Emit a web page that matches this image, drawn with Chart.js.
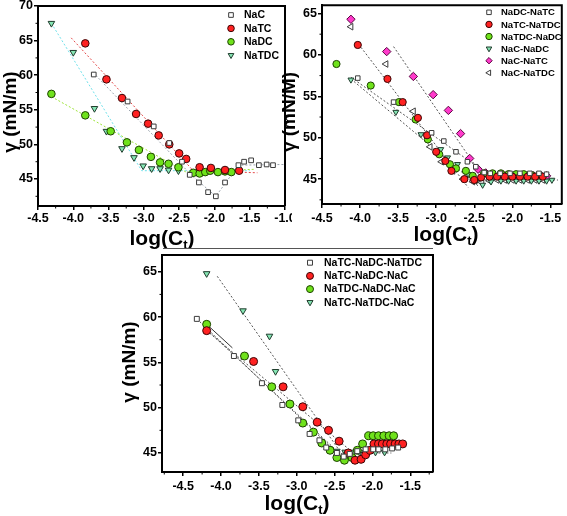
<!DOCTYPE html>
<html>
<head>
<meta charset="utf-8">
<script src="https://cdn.jsdelivr.net/npm/chart.js"></script>
<style>
  body { margin: 0; background: #fff; width: 567px; height: 516px; position: relative; overflow: hidden; }
  canvas { position: absolute; }
  #sep { position: absolute; left: 163px; top: 248px; width: 270px; height: 1px; background: #555; }
</style>
</head>
<body>
<canvas id="c1" width="292" height="250" style="left:0;top:0"></canvas>
<canvas id="c2" width="289" height="250" style="left:278px;top:0"></canvas>
<canvas id="c3" width="325" height="266" style="left:115px;top:250px"></canvas>
<div id="sep"></div>
<script>
// ---- panel 1 : single bile salts ----
const p1Labels = ["NaC", "NaTC", "NaDC", "NaTDC"];
const p1NaC = [[-3.71,60.1],[-3.23,56.2],[-2.86,52.6],[-2.64,50.2],[-2.46,47.5],[-2.35,45.6],[-2.22,44.5],[-2.09,43.1],[-1.98,42.5],[-1.85,44.5],[-1.66,47.0],[-1.58,47.5],[-1.48,47.7],[-1.37,47.0],[-1.26,47.1],[-1.17,47.0]];
const p1NaTC = [[-3.83,64.6],[-3.53,59.4],[-3.31,56.7],[-3.11,54.4],[-2.94,53.0],[-2.79,51.3],[-2.64,50.0],[-2.50,48.7],[-2.40,47.9],[-2.21,46.7],[-2.05,46.6],[-1.85,46.3],[-1.65,46.2]];
const p1NaDC = [[-4.31,57.3],[-3.83,54.2],[-3.47,51.9],[-3.24,50.3],[-3.07,49.2],[-2.90,48.2],[-2.77,47.4],[-2.65,47.2],[-2.51,46.7],[-2.30,45.9],[-2.21,45.8],[-2.13,46.0],[-2.06,46.2],[-1.95,46.0],[-1.85,46.1],[-1.76,46.0]];
const p1NaTDC = [[-4.31,67.5],[-4.00,63.3],[-3.70,55.2],[-3.53,51.9],[-3.31,49.4],[-3.14,48.1],[-3.01,46.9],[-2.89,46.5],[-2.77,46.5],[-2.65,46.3],[-2.51,46.2]];
const p1FitNaC = [[-3.72,60.4],[-2.33,45.6],[-1.98,42.5],[-1.66,47.0],[-1.0,47.1]];
const p1FitNaTC = [[-4.03,65.4],[-2.30,46.2],[-1.39,45.9]];
const p1FitNaDC = [[-4.31,56.9],[-2.40,46.0],[-1.44,46.4]];
const p1FitNaTDC = [[-4.31,67.5],[-3.03,46.2],[-1.50,46.2]];
const p1XTicks = [-4.5,-4.0,-3.5,-3.0,-2.5,-2.0,-1.5,-1.0];
const p1XMinor = [-4.25,-3.75,-3.25,-2.75,-2.25,-1.75,-1.25];
const p1YTicks = [45,50,55,60,65,70];
const p1YMinor = [42.5,47.5,52.5,57.5,62.5,67.5];

// ---- panel 2 : binary mixtures ----
const p2Labels = ["NaDC-NaTC", "NaTC-NaTDC", "NaTDC-NaDC", "NaC-NaDC", "NaC-NaTC", "NaC-NaTDC"];
const p2DCTC = [[-4.03,57.2],[-3.56,54.3],[-3.06,50.6],[-2.90,49.6],[-2.74,48.3],[-2.59,47.1],[-2.48,46.5],[-2.37,45.8],[-2.29,45.7],[-2.16,45.7],[-2.03,45.7],[-1.90,45.7],[-1.77,45.7],[-1.65,45.7],[-1.55,45.6]];
const p2TCTDC = [[-4.03,61.2],[-3.64,57.1],[-3.44,54.3],[-3.24,52.4],[-3.12,50.3],[-3.00,48.3],[-2.88,47.2],[-2.80,46.0],[-2.63,45.0],[-2.50,44.9],[-2.41,45.2],[-2.30,45.3],[-2.20,45.3],[-2.10,45.3],[-2.00,45.3],[-1.90,45.3],[-1.80,45.3],[-1.70,45.3],[-1.60,45.3]];
const p2TDCDC = [[-4.31,58.9],[-3.86,56.3],[-3.49,54.3],[-3.27,52.2],[-3.11,49.8],[-2.96,48.0],[-2.82,46.8],[-2.74,46.3],[-2.61,46.0],[-2.52,45.4],[-2.37,45.7],[-2.26,45.7],[-2.15,45.7],[-2.05,45.6],[-1.95,45.6],[-1.85,45.6],[-1.75,45.5],[-1.65,45.5]];
const p2CDC = [[-4.12,57.0],[-3.53,53.1],[-3.20,50.4],[-2.94,48.6],[-2.85,47.6],[-2.72,46.8],[-2.58,45.6],[-2.47,44.8],[-2.39,44.3],[-2.28,44.7],[-2.15,44.8],[-2.05,44.8],[-1.95,44.8],[-1.85,44.8],[-1.75,44.8],[-1.65,44.8],[-1.55,44.8],[-1.48,44.9]];
const p2CTC = [[-4.12,64.3],[-3.65,60.4],[-3.30,57.4],[-3.04,55.2],[-2.84,53.3],[-2.68,50.5],[-2.56,47.5],[-2.45,46.2],[-2.35,45.75],[-2.26,45.5],[-2.18,45.4],[-2.10,45.4],[-2.03,45.4],[-1.94,45.4],[-1.85,45.4],[-1.78,45.4],[-1.72,45.4],[-1.62,45.4],[-1.55,45.4]];
const p2CTDC = [[-4.12,63.4],[-3.66,58.9],[-3.30,53.2],[-3.08,48.9],[-2.93,47.1],[-2.78,46.0],[-2.65,45.0],[-2.52,44.7],[-2.40,44.6],[-2.30,44.8],[-2.20,44.9],[-2.10,44.9],[-2.00,44.9],[-1.90,44.9],[-1.80,44.9],[-1.70,44.9],[-1.60,44.9]];
const p2Fits = [
  [[-4.02,61.3],[-2.58,44.0]],
  [[-3.56,61.0],[-2.38,45.2]],
  [[-4.12,57.3],[-2.35,45.8]],
  [[-4.12,57.1],[-2.45,44.2]],
  [[-2.57,44.9],[-1.40,44.9]]
];
const p2XTicks = [-4.5,-4.0,-3.5,-3.0,-2.5,-2.0,-1.5];
const p2XMinor = [-4.25,-3.75,-3.25,-2.75,-2.25,-1.75];
const p2YTicks = [45,50,55,60,65];
const p2YMinor = [42.5,47.5,52.5,57.5,62.5];

// ---- panel 3 : ternary mixtures ----
const p3Labels = ["NaTC-NaDC-NaTDC", "NaTC-NaDC-NaC", "NaTDC-NaDC-NaC", "NaTC-NaTDC-NaC"];
const p3TCDCTDC = [[-4.32,59.8],[-3.83,55.7],[-3.46,52.7],[-3.19,50.3],[-2.98,48.6],[-2.83,47.1],[-2.70,46.4],[-2.61,45.6],[-2.47,45.0],[-2.38,44.6],[-2.30,44.9],[-2.20,45.2],[-2.09,45.4],[-1.99,45.4],[-1.92,45.4],[-1.83,45.4],[-1.74,45.5],[-1.66,45.6]];
const p3TCDCC = [[-4.19,58.5],[-3.57,55.1],[-3.18,52.3],[-2.92,50.1],[-2.73,48.4],[-2.58,47.5],[-2.44,46.3],[-2.32,45.0],[-2.23,44.2],[-2.15,44.3],[-2.09,44.8],[-2.03,45.3],[-1.98,46.0],[-1.92,46.0],[-1.87,46.0],[-1.81,46.0],[-1.76,46.0],[-1.70,46.0],[-1.65,46.0],[-1.60,46.0]];
const p3TDCDCC = [[-4.19,59.2],[-3.69,55.7],[-3.33,52.3],[-3.09,50.4],[-2.92,48.3],[-2.78,47.3],[-2.67,46.1],[-2.56,45.3],[-2.47,44.5],[-2.37,44.2],[-2.27,44.5],[-2.20,45.3],[-2.13,46.0],[-2.05,46.9],[-1.99,46.9],[-1.92,46.9],[-1.85,46.9],[-1.78,46.9],[-1.72,46.9]];
const p3TCTDCC = [[-4.19,64.8],[-3.71,60.7],[-3.36,57.9],[-3.28,54.0],[-3.09,50.4],[-2.92,48.3],[-2.78,47.3],[-2.67,46.1],[-2.58,45.5],[-2.47,45.2],[-2.36,45.1],[-2.25,45.1],[-2.17,45.1],[-2.05,45.1],[-1.96,45.1],[-1.84,45.1]];
const p3Fits = [
  [[-4.05,64.5],[-2.33,44.0]],
  [[-4.32,59.8],[-2.42,44.6]],
  [[-4.19,58.6],[-2.35,44.3]],
  [[-4.19,58.5],[-2.28,45.2]],
  [[-2.45,45.0],[-1.75,45.0]]
];
const p3Solid = [[-4.19,59.2],[-3.85,56.6]];
const p3XTicks = [-4.5,-4.0,-3.5,-3.0,-2.5,-2.0,-1.5];
const p3XMinor = [-4.75,-4.25,-3.75,-3.25,-2.75,-2.25,-1.75,-1.25];
const p3YTicks = [45,50,55,60,65];
const p3YMinor = [47.5,52.5,57.5,62.5];

const FONT = "'Liberation Sans', Arial, sans-serif";

// marker looks
const SQ = { pointStyle: "rect", bg: "#ffffff", bd: "#3c3c3c", rot: 0 };
const RED = { pointStyle: "circle", bg: "#ff2121", bd: "#3a0505", rot: 0 };
const GRN = { pointStyle: "circle", bg: "#6fe21b", bd: "#1d4200", rot: 0 };
const TRI = { pointStyle: "triangle", bg: "#86e6b4", bd: "#1f3b2c", rot: 180 };
const MAG = { pointStyle: "rectRot", bg: "#ff3acb", bd: "#5a0440", rot: 0 };
const LTRI = { pointStyle: "triangle", bg: "#ffffff", bd: "#3c3c3c", rot: 270 };

function toXY(arr) {
  return arr.map(p => ({ x: p[0], y: p[1] }));
}

function markerSet(label, arr, look, r) {
  return {
    label: label,
    data: toXY(arr),
    pointStyle: look.pointStyle,
    pointRotation: look.rot,
    backgroundColor: look.bg,
    borderColor: look.bd,
    pointBorderWidth: 1,
    pointRadius: r,
    pointHoverRadius: r,
    showLine: false,
    order: 0,
    look: look
  };
}

function fitSet(arr, color, dash) {
  return {
    label: "",
    data: toXY(arr),
    showLine: true,
    borderColor: color,
    borderWidth: 1,
    borderDash: dash,
    pointRadius: 0,
    order: 5,
    isFit: true
  };
}

function axis(min, max, ticks, dec, size, isY) {
  return {
    type: "linear",
    min: min,
    max: max,
    afterBuildTicks: (s) => { s.ticks = ticks.map(v => ({ value: v })); },
    afterFit: (s) => {
      if (isY) s.width = size.w; else s.height = size.h;
      s.paddingTop = 0; s.paddingBottom = 0; s.paddingLeft = 0; s.paddingRight = 0;
    },
    ticks: {
      color: "#000",
      autoSkip: false,
      maxRotation: 0,
      padding: size.pad,
      font: { family: FONT, size: 12.5, weight: "bold" },
      callback: (v) => dec ? Number(v).toFixed(1) : String(v)
    },
    grid: { drawOnChartArea: false, drawTicks: true, tickLength: 4, color: "#000", lineWidth: 1.5 },
    border: { display: true, color: "#000", width: 2 }
  };
}

function decor(cfg) {
  return {
    id: "decor",
    afterDraw(chart) {
      const ctx = chart.ctx;
      const a = chart.chartArea;
      const xs = chart.scales.x, ys = chart.scales.y;
      ctx.save();
      // frame top / right
      ctx.strokeStyle = "#000";
      ctx.lineWidth = 2;
      ctx.beginPath();
      ctx.moveTo(a.left, a.top); ctx.lineTo(a.right, a.top); ctx.lineTo(a.right, a.bottom);
      ctx.stroke();
      // minor ticks
      ctx.lineWidth = 1;
      ctx.beginPath();
      cfg.xMinor.forEach(v => {
        const px = xs.getPixelForValue(v);
        ctx.moveTo(px, a.bottom); ctx.lineTo(px, a.bottom + 2.5);
      });
      cfg.yMinor.forEach(v => {
        const py = ys.getPixelForValue(v);
        ctx.moveTo(a.left, py); ctx.lineTo(a.left - 2.5, py);
      });
      ctx.stroke();

      // x title with subscript
      ctx.fillStyle = "#000";
      ctx.textBaseline = "alphabetic";
      const fs = cfg.xTitleSize;
      const small = Math.round(fs * 0.6);
      ctx.font = "bold " + fs + "px " + FONT;
      const w1 = ctx.measureText("log(C").width;
      const w3 = ctx.measureText(")").width;
      ctx.font = "bold " + small + "px " + FONT;
      const w2 = ctx.measureText("t").width;
      const x0 = cfg.xTitle[0] - (w1 + w2 + w3) / 2;
      const base = cfg.xTitle[1] + fs * 0.36;
      ctx.font = "bold " + fs + "px " + FONT;
      ctx.fillText("log(C", x0, base);
      ctx.font = "bold " + small + "px " + FONT;
      ctx.fillText("t", x0 + w1, base + fs * 0.22);
      ctx.font = "bold " + fs + "px " + FONT;
      ctx.fillText(")", x0 + w1 + w2, base);

      // y title
      ctx.save();
      ctx.translate(cfg.yTitle[0], cfg.yTitle[1]);
      ctx.rotate(-Math.PI / 2);
      ctx.textAlign = "center";
      ctx.textBaseline = "middle";
      ctx.font = "bold " + cfg.yTitleSize + "px " + FONT;
      ctx.fillText(cfg.yTitleText, 0, 0);
      ctx.restore();

      // legend
      const items = chart.data.datasets.filter(d => !d.isFit);
      ctx.font = "bold " + cfg.legend.size + "px " + FONT;
      ctx.textAlign = "left";
      ctx.textBaseline = "middle";
      items.forEach((d, i) => {
        const y = cfg.legend.y0 + i * cfg.legend.dy;
        ctx.fillStyle = d.look.bg;
        ctx.strokeStyle = d.look.bd;
        ctx.lineWidth = 1;
        Chart.helpers.drawPoint(ctx, {
          pointStyle: d.look.pointStyle, radius: cfg.legend.r,
          rotation: d.look.rot, borderWidth: 1
        }, cfg.legend.sx, y);
        ctx.fillStyle = "#000";
        ctx.fillText(d.label, cfg.legend.tx, y + 0.5);
      });
      ctx.restore();
    }
  };
}

function build(id, datasets, sc, cfg) {
  new Chart(document.getElementById(id), {
    type: "scatter",
    data: { datasets: datasets },
    options: {
      responsive: false,
      animation: false,
      devicePixelRatio: 1,
      layout: { padding: { top: sc.top, right: sc.right, left: 0, bottom: 0 } },
      scales: {
        x: axis(sc.xMin, sc.xMax, sc.xTicks, true, { h: sc.xh, pad: sc.xpad }, false),
        y: axis(sc.yMin, sc.yMax, sc.yTicks, false, { w: sc.yw, pad: 1 }, true)
      },
      plugins: { legend: { display: false }, tooltip: { enabled: false } }
    },
    plugins: [decor(cfg)]
  });
}

// panel 1
build("c1", [
  markerSet(p1Labels[0], p1NaC, SQ, 3.3),
  markerSet(p1Labels[1], p1NaTC, RED, 3.8),
  markerSet(p1Labels[2], p1NaDC, GRN, 3.8),
  markerSet(p1Labels[3], p1NaTDC, TRI, 3.8),
  fitSet(p1FitNaC, "#9aa3ad", [2, 2]),
  fitSet(p1FitNaTC, "#e44a4a", [2, 2]),
  fitSet(p1FitNaDC, "#9ee33a", [2, 2]),
  fitSet(p1FitNaTDC, "#6fe0ea", [2, 2])
], { top: 6, right: 7, xMin: -4.5, xMax: -1.0, yMin: 41.1, yMax: 70, xTicks: p1XTicks, yTicks: p1YTicks, xh: 44, yw: 38, xpad: 1 }, {
  xMinor: p1XMinor, yMinor: p1YMinor,
  xTitle: [162, 237], xTitleSize: 21,
  yTitle: [11, 112], yTitleSize: 19, yTitleText: "\u03b3 (mN/m)",
  legend: { sx: 231, tx: 244, y0: 15, dy: 13.4, r: 3.3, size: 10.5 }
});

// panel 2
build("c2", [
  markerSet(p2Labels[0], p2DCTC, SQ, 3.2),
  markerSet(p2Labels[1], p2TCTDC, RED, 3.6),
  markerSet(p2Labels[2], p2TDCDC, GRN, 3.6),
  markerSet(p2Labels[3], p2CDC, TRI, 3.4),
  markerSet(p2Labels[4], p2CTC, MAG, 4.2),
  markerSet(p2Labels[5], p2CTDC, LTRI, 3.8)
].concat(p2Fits.map(f => fitSet(f, "#555", [2, 2]))),
{ top: 4, right: 2, xMin: -4.5, xMax: -1.35, yMin: 42.0, yMax: 66.0, xTicks: p2XTicks, yTicks: p2YTicks, xh: 46, yw: 44, xpad: 3 }, {
  xMinor: p2XMinor, yMinor: p2YMinor,
  xTitle: [168, 233], xTitleSize: 21,
  yTitle: [12, 112], yTitleSize: 19, yTitleText: "\u03b3 (mN/M)",
  legend: { sx: 211, tx: 223, y0: 12.3, dy: 12.1, r: 3.2, size: 9.5 }
});

// panel 3
build("c3", [
  markerSet(p3Labels[0], p3TCDCTDC, SQ, 3.5),
  markerSet(p3Labels[1], p3TCDCC, RED, 4.0),
  markerSet(p3Labels[2], p3TDCDCC, GRN, 4.0),
  markerSet(p3Labels[3], p3TCTDCC, TRI, 3.8)
].concat(p3Fits.map(f => fitSet(f, "#555", [2, 2]))).concat([fitSet(p3Solid, "#333", [])]),
{ top: 2, right: 7, xMin: -4.78, xMax: -1.2, yMin: 42.9, yMax: 66.85, xTicks: p3XTicks, yTicks: p3YTicks, xh: 44, yw: 47, xpad: 3 }, {
  xMinor: p3XMinor, yMinor: p3YMinor,
  xTitle: [182, 252], xTitleSize: 21,
  yTitle: [15, 112], yTitleSize: 19, yTitleText: "\u03b3 (mN/m)",
  legend: { sx: 195, tx: 209, y0: 12.7, dy: 13.2, r: 3.5, size: 10.5 }
});
</script>
</body>
</html>
